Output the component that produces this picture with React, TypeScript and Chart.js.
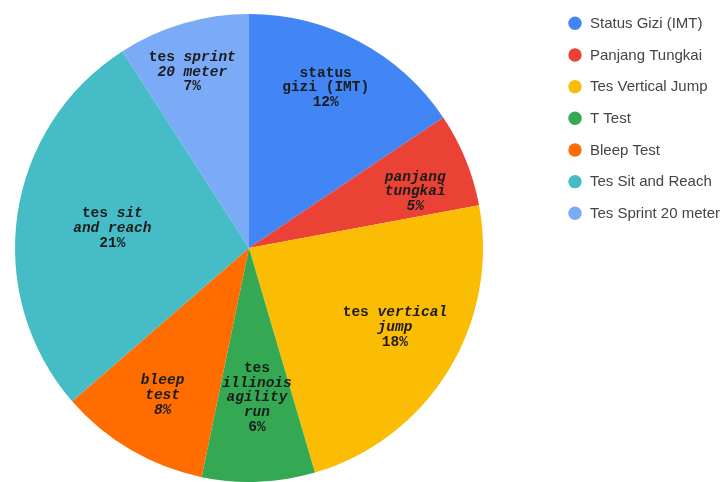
import React, { useEffect, useRef } from "react";
import { Chart, registerables } from "chart.js";

Chart.register(...registerables);

const categories = [
  "Status Gizi (IMT)",
  "Panjang Tungkai",
  "Tes Vertical Jump",
  "T Test",
  "Bleep Test",
  "Tes Sit and Reach",
  "Tes Sprint 20 meter",
];
const values = [12, 5, 18, 6, 8, 21, 7];
const colors = ["#4285F4", "#EA4335", "#FBBC04", "#34A853", "#FF6D01", "#46BDC6", "#7BAAF7"];

// slice labels: lines of [text, italic]
type Seg = [string, boolean];
const sliceLabels: Seg[][][] = [
  [[["status", false]], [["gizi (IMT)", false]], [["12%", false]]],
  [[["panjang", true]], [["tungkai", true]], [["5%", true]]],
  [[["tes ", false], ["vertical", true]], [["jump", true]], [["18%", false]]],
  [[["tes", false]], [["illinois", true]], [["agility", true]], [["run", true]], [["6%", false]]],
  [[["bleep", true]], [["test", true]], [["8%", true]]],
  [[["tes ", false], ["sit", true]], [["and reach", true]], [["21%", false]]],
  [[["tes ", false], ["sprint", true]], [["20 meter", true]], [["7%", false]]],
];
// radial position of each label as a fraction of radius, plus angular tweak (deg)
const labelRadius = [0.76, 0.75, 0.71, 0.64, 0.73, 0.59, 0.79];
const labelAngleShift = [-2.5, 3.5, -3, -0.7, 0, 0, -1.5];

const FONT_SIZE = 14.5;
const LINE_H = 14.7;
const MONO = "'Liberation Mono', 'DejaVu Sans Mono', monospace";

const sliceLabelPlugin = {
  id: "sliceLabels",
  afterDatasetsDraw(chart: any) {
    const ctx = chart.ctx;
    const meta = chart.getDatasetMeta(0);
    ctx.save();
    ctx.fillStyle = "#1c1c1c";
    ctx.textBaseline = "middle";
    ctx.textAlign = "left";
    meta.data.forEach((arc: any, i: number) => {
      const { x, y, startAngle, endAngle, outerRadius } = arc.getProps(
        ["x", "y", "startAngle", "endAngle", "outerRadius"],
        true
      );
      const mid = (startAngle + endAngle) / 2 + (labelAngleShift[i] * Math.PI) / 180;
      const r = outerRadius * labelRadius[i];
      const cx = x + Math.cos(mid) * r;
      const cy = y + Math.sin(mid) * r;
      const lines = sliceLabels[i];
      const top = cy - ((lines.length - 1) * LINE_H) / 2;
      lines.forEach((line, li) => {
        const fonts = line.map(([, it]) => `${it ? "italic " : ""}bold ${FONT_SIZE}px ${MONO}`);
        let total = 0;
        const widths = line.map(([t], k) => {
          ctx.font = fonts[k];
          const w = ctx.measureText(t).width;
          total += w;
          return w;
        });
        let px = cx - total / 2;
        line.forEach(([t], k) => {
          ctx.font = fonts[k];
          ctx.fillText(t, px, top + li * LINE_H);
          px += widths[k];
        });
      });
    });
    ctx.restore();
  },
};

const legendPlugin = {
  id: "customLegend",
  afterDraw(chart: any) {
    const ctx = chart.ctx;
    ctx.save();
    ctx.textBaseline = "middle";
    ctx.textAlign = "left";
    ctx.font = "15px 'Liberation Sans', Arial, sans-serif";
    categories.forEach((c, i) => {
      const yy = 23.3 + i * 31.67;
      ctx.fillStyle = colors[i];
      ctx.beginPath();
      ctx.arc(575, yy, 6.7, 0, Math.PI * 2);
      ctx.fill();
      ctx.fillStyle = "#444444";
      ctx.fillText(c, 590, yy + 0.5);
    });
    ctx.restore();
  },
};

export default function App() {
  const ref = useRef<HTMLCanvasElement>(null);
  useEffect(() => {
    document.body.style.margin = "0";
    const chart = new Chart(ref.current!, {
      type: "pie",
      data: {
        labels: categories,
        datasets: [
          {
            data: values,
            backgroundColor: colors,
            borderWidth: 0,
            hoverOffset: 0,
          },
        ],
      },
      options: {
        responsive: false,
        animation: false,
        devicePixelRatio: 1,
        layout: { padding: { left: 15, right: 245, top: 14, bottom: 0 } },
        plugins: {
          legend: { display: false },
          tooltip: { enabled: false },
        },
      },
      plugins: [sliceLabelPlugin, legendPlugin],
    });
    return () => chart.destroy();
  }, []);
  return (
    <div style={{ width: 728, height: 482, background: "#ffffff" }}>
      <canvas ref={ref} width={728} height={482} style={{ display: "block" }} />
    </div>
  );
}
